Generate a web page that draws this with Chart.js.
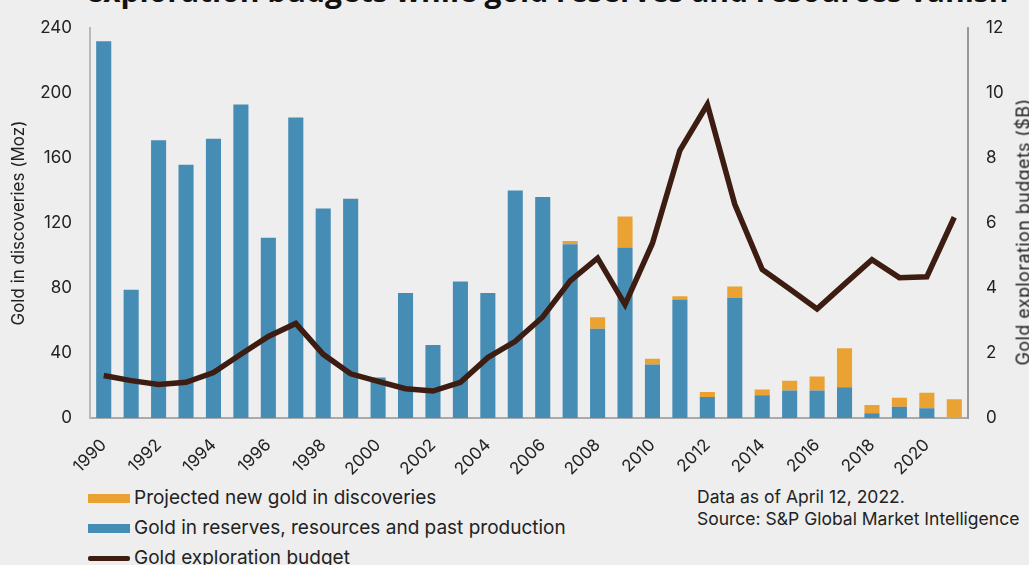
<!DOCTYPE html>
<html>
<head>
<meta charset="utf-8">
<script src="https://cdn.jsdelivr.net/npm/chart.js@4.4.1/dist/chart.umd.min.js"></script>
<style>
  html, body { margin: 0; padding: 0; background: #eeeeee; }
  body { width: 1029px; height: 565px; position: relative; overflow: hidden; font-family: Inter, "Liberation Sans", sans-serif; color: #222; }
  #wrap { position: absolute; left: 0; top: 0; width: 1029px; height: 480px; }
  .title { position: absolute; left: 0; width: 1094px; top: -24px; text-align: center; font: bold 30px "Open Sans", sans-serif; color: #111; white-space: nowrap; line-height: 30px; }
  .ytitle { position: absolute; font-size: 18px; letter-spacing: 0.4px; white-space: nowrap; color: #222; transform: translate(-50%, -50%) rotate(-90deg); }
  .legend { position: absolute; left: 88px; top: 483px; font-size: 19px; }
  .legend div { height: 30px; line-height: 22px; display: flex; align-items: center; white-space: nowrap; }
  .legend span.sw { display: inline-block; width: 42px; height: 9px; margin-right: 4px; }
  .legend span.ln { display: inline-block; width: 42px; height: 5px; margin-right: 4px; border-radius: 2px; }
  .note { position: absolute; left: 697px; top: 486px; font-size: 17.5px; line-height: 22px; white-space: nowrap; }
</style>
</head>
<body>
<div class="title">exploration budgets while gold reserves and resources vanish</div>
<div id="wrap"><canvas id="chart"></canvas></div>
<div class="ytitle" style="left:1023px; top:232px;">Gold exploration budgets ($B)</div>
<div class="legend">
  <div><span class="sw" style="background:#eaa233"></span>Projected new gold in discoveries</div>
  <div><span class="sw" style="background:#468db5"></span>Gold in reserves, resources and past production</div>
  <div><span class="ln" style="background:#3d1c12"></span>Gold exploration budget</div>
</div>
<div class="note">Data as of April 12, 2022.<br>Source: S&amp;P Global Market Intelligence</div>
<script>
const years = ['1990','1991','1992','1993','1994','1995','1996','1997','1998','1999',
  '2000','2001','2002','2003','2004','2005','2006','2007','2008','2009',
  '2010','2011','2012','2013','2014','2015','2016','2017','2018','2019','2020','2021'];

// Moz, gold already in reserves/resources/production
const reserves = [232, 79, 171, 156, 172, 193, 111, 185, 129, 135,
  25, 77, 45, 84, 77, 140, 136, 107, 55, 105,
  33, 73, 13, 74, 14, 17, 17, 19, 3, 7, 6, 0];

// Moz, projected additions still to come
const projected = [0, 0, 0, 0, 0, 0, 0, 0, 0, 0,
  0, 0, 0, 0, 0, 0, 0, 2, 7, 19,
  3.5, 2, 3, 7, 3.5, 6, 8.5, 24, 5, 5.5, 9.5, 11.5];

// $B exploration budget
const budget = [1.31, 1.15, 1.03, 1.1, 1.4, 1.96, 2.51, 2.91, 1.96, 1.36,
  1.13, 0.9, 0.83, 1.1, 1.86, 2.36, 3.11, 4.22, 4.92, 3.49,
  5.38, 8.24, 9.65, 6.58, 4.57, 3.97, 3.36, 4.12, 4.87, 4.32, 4.35, 6.18];

const leftTicks = [0, 40, 80, 120, 160, 200, 240];
const rightTicks = [0, 2, 4, 6, 8, 10, 12];

const tickFont = { family: 'Inter, "Liberation Sans", sans-serif', size: 17 };

new Chart(document.getElementById('chart'), {
  data: {
    labels: years,
    datasets: [
      {
        type: 'line', label: 'Gold exploration budget', data: budget, yAxisID: 'y2',
        borderColor: '#3d1c12', borderWidth: 5.5, pointRadius: 0, tension: 0, order: 0
      },
      {
        type: 'bar', label: 'Gold in reserves, resources and past production', data: reserves,
        backgroundColor: '#468db5', yAxisID: 'y', stack: 'gold', order: 1,
        barPercentage: 0.55, categoryPercentage: 1
      },
      {
        type: 'bar', label: 'Projected new gold in discoveries', data: projected,
        backgroundColor: '#eaa233', yAxisID: 'y', stack: 'gold', order: 2,
        barPercentage: 0.55, categoryPercentage: 1
      }
    ]
  },
  options: {
    responsive: true,
    maintainAspectRatio: false,
    animation: false,
    layout: { padding: { top: 20, left: 0, right: 0, bottom: 0 } },
    plugins: { legend: { display: false }, tooltip: { enabled: false } },
    scales: {
      x: {
        stacked: true,
        grid: { display: false, drawTicks: false },
        border: { color: '#aaaaaa', width: 2 },
        ticks: {
          autoSkip: false, minRotation: 45, maxRotation: 45, padding: 17,
          color: '#222', font: tickFont,
          callback: (v, i) => (i % 2 === 0 ? years[i] : '')
        },
        afterFit: s => { s.height = 62; }
      },
      y: {
        position: 'left', stacked: true, min: 0, max: 240,
        grid: { display: false, drawTicks: false },
        border: { color: '#b8b8b8', width: 2 },
        afterBuildTicks: s => { s.ticks = leftTicks.map(v => ({ value: v })); },
        ticks: { padding: 18, color: '#222', font: tickFont },
        title: { display: true, text: 'Gold in discoveries (Moz)', color: '#222',
          font: { family: 'Inter, "Liberation Sans", sans-serif', size: 17 }, padding: { top: 9, bottom: 0 } },
        afterFit: s => { s.width = 90; }
      },
      y2: {
        position: 'right', min: 0, max: 12,
        grid: { display: false, drawTicks: false },
        border: { color: '#999999', width: 2 },
        afterBuildTicks: s => { s.ticks = rightTicks.map(v => ({ value: v })); },
        ticks: { padding: 18, color: '#222', font: tickFont },
        afterFit: s => { s.width = 61; }
      }
    }
  }
});
</script>
</body>
</html>
